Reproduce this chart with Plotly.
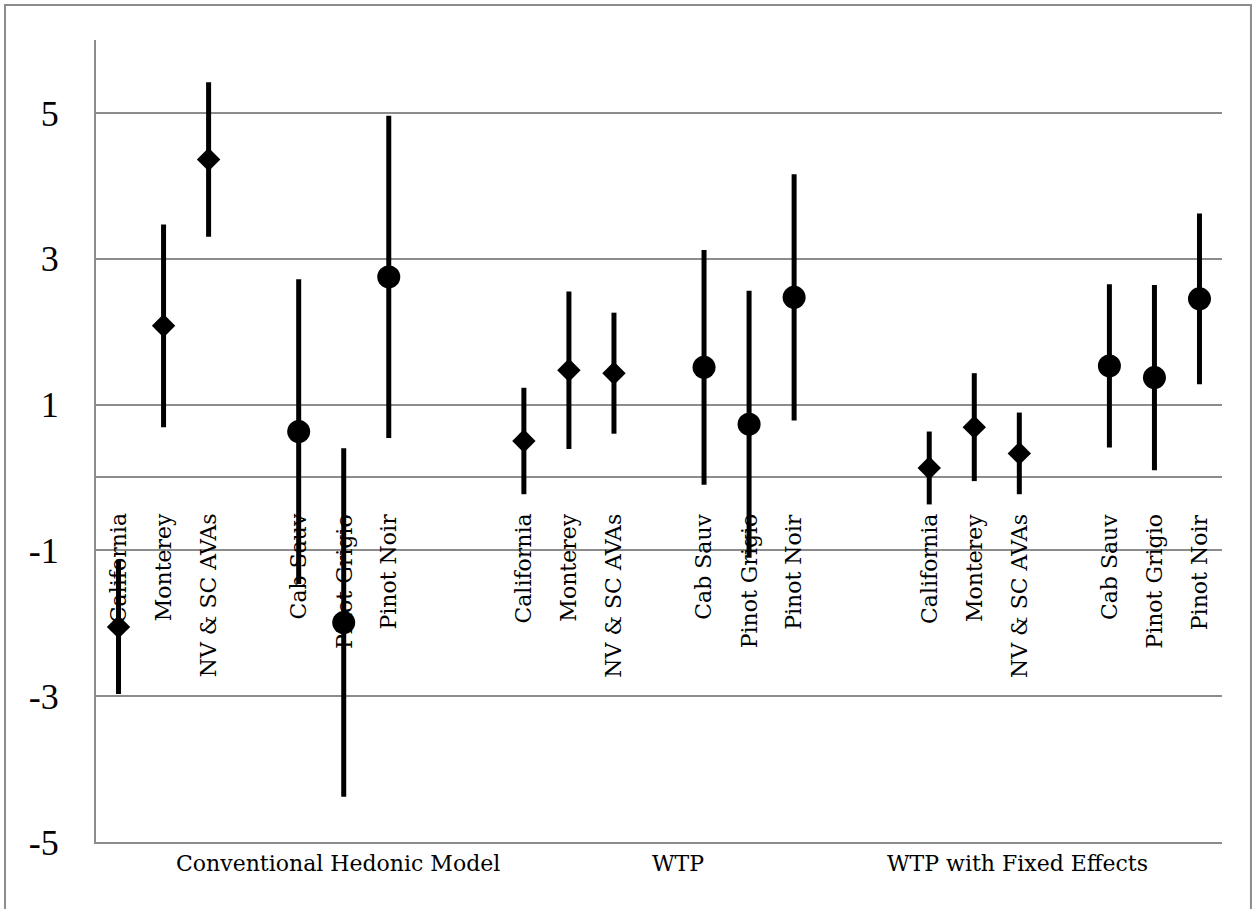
import plotly.graph_objects as go

# ---- data ----
models = ["Conventional Hedonic Model", "WTP", "WTP with Fixed Effects"]
regions = ["California", "Monterey", "NV & SC AVAs"]
varietals = ["Cab Sauv", "Pinot Grigio", "Pinot Noir"]

chm_region_est = [-2.05, 2.08, 4.36]
chm_region_err = [0.92, 1.39, 1.06]
chm_varietal_est = [0.63, -1.99, 2.75]
chm_varietal_err = [2.09, 2.39, 2.21]

wtp_region_est = [0.50, 1.47, 1.43]
wtp_region_err = [0.73, 1.08, 0.83]
wtp_varietal_est = [1.51, 0.73, 2.47]
wtp_varietal_err = [1.61, 1.83, 1.69]

fe_region_est = [0.13, 0.69, 0.33]
fe_region_err = [0.50, 0.74, 0.56]
fe_varietal_est = [1.53, 1.37, 2.45]
fe_varietal_err = [1.12, 1.27, 1.17]

y_ticks = [-5, -3, -1, 1, 3, 5]
label_y = -0.47
model_label_x = [5.88, 13.42, 20.95]

region_est = [chm_region_est, wtp_region_est, fe_region_est]
region_err = [chm_region_err, wtp_region_err, fe_region_err]
varietal_est = [chm_varietal_est, wtp_varietal_est, fe_varietal_est]
varietal_err = [chm_varietal_err, wtp_varietal_err, fe_varietal_err]

GROUP = 9
rx, ry, re, rl = [], [], [], []
vx, vy, ve, vl = [], [], [], []
for g in range(len(models)):
    for i, name in enumerate(regions):
        rx.append(1 + GROUP * g + i)
        ry.append(region_est[g][i])
        re.append(region_err[g][i])
        rl.append(name)
    for j, name in enumerate(varietals):
        vx.append(5 + GROUP * g + j)
        vy.append(varietal_est[g][j])
        ve.append(varietal_err[g][j])
        vl.append(name)

fig = go.Figure()
fig.add_trace(go.Scatter(
    x=rx, y=ry, mode="markers", name="Region",
    marker=dict(symbol="diamond", size=18, color="black"),
    error_y=dict(type="data", array=re, symmetric=True, thickness=5, width=0, color="black"),
))
fig.add_trace(go.Scatter(
    x=vx, y=vy, mode="markers", name="Varietal",
    marker=dict(symbol="circle", size=23, color="black"),
    error_y=dict(type="data", array=ve, symmetric=True, thickness=5, width=0, color="black"),
))

annotations = []
for x, name in zip(rx + vx, rl + vl):
    annotations.append(dict(
        x=x, y=label_y, xref="x", yref="y", text=name, showarrow=False,
        textangle=-90, xanchor="center", yanchor="top",
        font=dict(family="DejaVu Serif", size=22, color="black"),
    ))
for x, name in zip(model_label_x, models):
    annotations.append(dict(
        x=x, y=-5, xref="x", yref="y", text=name, showarrow=False,
        xanchor="center", yanchor="middle", yshift=-21,
        font=dict(family="DejaVu Serif", size=22, color="black"),
    ))

fig.update_layout(
    width=1254, height=909,
    margin=dict(l=96, r=32, t=40, b=67),
    paper_bgcolor="white", plot_bgcolor="white",
    showlegend=False,
    annotations=annotations,
    shapes=[dict(type="rect", xref="paper", yref="paper",
                 x0=-0.0808, x1=1.0257, y0=-0.12, y1=1.0436,
                 line=dict(color="#8c8c8c", width=2), fillcolor="rgba(0,0,0,0)",
                 layer="below")],
)
fig.update_xaxes(range=[0.5, 25.5], showgrid=False, zeroline=False,
                 showticklabels=False, ticks="", showline=True,
                 linecolor="#8c8c8c", linewidth=2)
fig.update_yaxes(range=[-5, 6], tickvals=y_ticks, ticktext=[str(v) for v in y_ticks],
                 showgrid=True, gridcolor="#8c8c8c", gridwidth=2,
                 zeroline=True, zerolinecolor="#8c8c8c", zerolinewidth=2,
                 showline=True, linecolor="#8c8c8c", linewidth=2,
                 ticks="", ticklabelstandoff=28,
                 tickfont=dict(family="Liberation Serif", size=36, color="black"))

fig.write_html("out.html", config={"displayModeBar": False},
               post_script="document.body.style.margin='0';document.body.style.overflow='hidden';")
